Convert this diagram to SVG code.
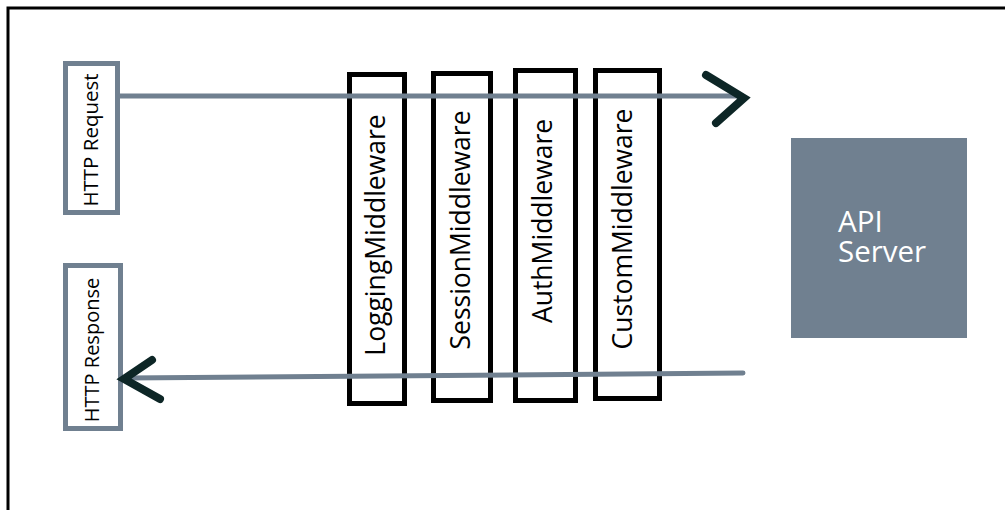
<svg xmlns="http://www.w3.org/2000/svg" width="1005" height="510" viewBox="0 0 1005 510">
<style>
.io{fill:#fff;stroke:#708090;stroke-width:5}
.mw{fill:#fff;stroke:#000;stroke-width:5}
.lbl{font-family:"Open Sans","Noto Sans",sans-serif;fill:#000;text-anchor:middle;dominant-baseline:central}
.flow{fill:none;stroke:#708090;stroke-width:5;stroke-linecap:round}
.chev{fill:none;stroke:#0d2626;stroke-width:8;stroke-linecap:round;stroke-linejoin:miter}
</style>
<rect width="1005" height="510" fill="#fff"/>
<path d="M8 510 V8 H1005" fill="none" stroke="#000" stroke-width="3"/>
<g id="http-request">
<rect class="io" x="65.5" y="63.5" width="52" height="149"/>
<text class="lbl" font-size="20.5" transform="translate(90 140) rotate(-90)">HTTP Request</text>
</g>
<g id="http-response">
<rect class="io" x="65.5" y="265.5" width="55" height="163"/>
<text class="lbl" font-size="20" transform="translate(91 350) rotate(-90)">HTTP Response</text>
</g>
<g id="logging">
<rect class="mw" x="349.5" y="74.5" width="55" height="329"/>
<text class="lbl" font-size="26.5" transform="translate(375 235) rotate(-90)">LoggingMiddleware</text>
</g>
<g id="session">
<rect class="mw" x="433.5" y="73.5" width="57" height="327"/>
<text class="lbl" font-size="26.5" transform="translate(460 230) rotate(-90)">SessionMiddleware</text>
</g>
<g id="auth">
<rect class="mw" x="515.5" y="70.5" width="60" height="330"/>
<text class="lbl" font-size="26.5" transform="translate(542 221) rotate(-90)">AuthMiddleware</text>
</g>
<g id="custom">
<rect class="mw" x="595.5" y="70.5" width="64" height="328"/>
<text class="lbl" font-size="26.5" transform="translate(622 229) rotate(-90)">CustomMiddleware</text>
</g>
<g id="api-server">
<rect x="791" y="138" width="176" height="200" fill="#708090"/>
<text font-family="'Open Sans','Noto Sans',sans-serif" font-size="29.5" fill="#fff"><tspan x="838" y="232">API</tspan><tspan x="838" y="262">Server</tspan></text>
</g>
<g id="connectors">
<line class="flow" x1="120" y1="96" x2="742" y2="96"/>
<path class="chev" d="M706 75 L744 98 L716 123"/>
<line class="flow" x1="743" y1="373" x2="126" y2="378"/>
<path class="chev" d="M152 360 L124 379 L160 399"/>
</g>
</svg>
